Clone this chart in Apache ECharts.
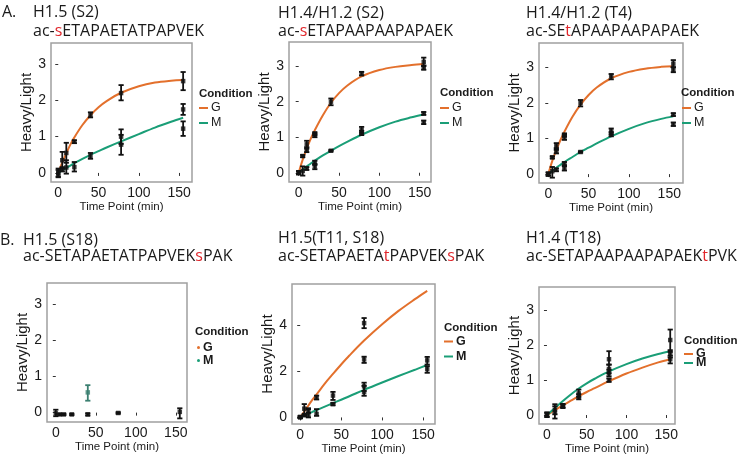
<!DOCTYPE html>
<html>
<head>
<meta charset="utf-8">
<script src="https://cdn.jsdelivr.net/npm/echarts@6/dist/echarts.min.js"></script>
<style>html,body{margin:0;padding:0;background:#fff}#c{width:737px;height:456px}</style>
</head>
<body>
<div id="c"></div>
<script>
// ---------- data ----------
const xTicks = [0, 50, 100, 150];
const yTicks3 = [0, 1, 2, 3];
const yTicksB2 = [0, 2, 4];
const curveT = [0, 5, 10, 15, 20, 30, 40, 50, 60, 78, 100, 120, 140, 155];

// A1  H1.5 (S2)
const a1CurveG = [0, 0.29, 0.54, 0.78, 0.98, 1.32, 1.59, 1.81, 1.98, 2.21, 2.39, 2.49, 2.54, 2.56];
const a1CurveM = [0, 0.07, 0.14, 0.2, 0.27, 0.39, 0.5, 0.6, 0.7, 0.87, 1.07, 1.25, 1.41, 1.52];
const a1G = [[0,0,-0.1,0.12],[5,0.35,0.12,0.58],[10,0.55,0.28,0.83],[20,0.86,0.82,0.9],[40,1.6,1.53,1.67],[78,2.2,2.0,2.42],[155,2.53,2.28,2.78]];
const a1M = [[0,-0.02,-0.12,0.08],[5,0.1,0.04,0.16],[10,0.15,-0.02,0.35],[20,0.16,0.04,0.3],[40,0.47,0.39,0.55],[78,1.0,0.8,1.2],[78,0.78,0.5,1.05],[155,1.75,1.6,1.9],[155,1.22,1.02,1.42]];

// A2  H1.4/H1.2 (S2)
const a2CurveG = [0, 0.37, 0.68, 0.96, 1.2, 1.62, 1.97, 2.24, 2.45, 2.71, 2.89, 2.98, 3.03, 3.06];
const a2CurveM = [0, 0.09, 0.18, 0.26, 0.34, 0.49, 0.62, 0.75, 0.87, 1.07, 1.28, 1.44, 1.56, 1.64];
const a2G = [[0,0,-0.04,0.04],[5,0.47,0.44,0.5],[10,0.8,0.72,0.9],[10,0.63,0.58,0.68],[20,1.05,1.0,1.1],[20,1.1,1.06,1.14],[40,2.0,1.9,2.09],[78,2.78,2.74,2.84],[155,3.12,3.02,3.24],[155,2.95,2.9,3.0]];
const a2M = [[0,0,-0.05,0.05],[5,0.05,-0.08,0.18],[10,0.12,0.08,0.16],[20,0.18,0.1,0.25],[20,0.28,0.22,0.34],[40,0.62,0.6,0.64],[78,1.2,1.12,1.29],[78,1.12,1.06,1.18],[155,1.67,1.63,1.71],[155,1.42,1.37,1.47]];

// A3  H1.4/H1.2 (T4)
const a3CurveG = [0, 0.37, 0.68, 0.95, 1.19, 1.61, 1.95, 2.22, 2.43, 2.69, 2.87, 2.96, 3.01, 3.03];
const a3CurveM = [0, 0.09, 0.18, 0.26, 0.34, 0.48, 0.62, 0.74, 0.86, 1.06, 1.27, 1.43, 1.55, 1.62];
const a3G = [[0,0,-0.04,0.04],[5,0.47,0.44,0.5],[10,0.8,0.73,0.87],[10,0.63,0.58,0.68],[20,1.05,0.96,1.1],[20,1.1,1.05,1.14],[40,2.0,1.9,2.08],[78,2.75,2.66,2.81],[155,3.1,3.0,3.2],[155,2.93,2.86,3.0]];
const a3M = [[0,0,-0.05,0.05],[5,0.08,-0.1,0.2],[10,0.12,0.08,0.16],[20,0.18,0.1,0.25],[20,0.28,0.22,0.34],[40,0.62,0.6,0.64],[78,1.2,1.12,1.28],[78,1.12,1.06,1.18],[155,1.67,1.63,1.71],[155,1.4,1.35,1.45]];

// B1  H1.5 (S18)  (no fitted curves)
const b1G = [[0,-0.02,-0.1,0.08],[5,-0.05,-0.07,-0.03],[10,-0.05,-0.07,-0.03],[20,-0.05,-0.07,-0.03],[40,-0.05,-0.08,-0.02],[78,-0.01,-0.03,0.01],[155,0.02,-0.16,0.12]];
const b1M = [[40,0.56,0.33,0.76]];

// B2  H1.5(T11, S18)
const b2CurveG = [0, 0.26, 0.52, 0.77, 1.0, 1.47, 1.89, 2.3, 2.69, 3.34, 4.05, 4.63, 5.14, 5.5];
const b2CurveM = [0, 0.08, 0.16, 0.24, 0.32, 0.47, 0.62, 0.77, 0.92, 1.2, 1.52, 1.8, 2.07, 2.28];
const b2G = [[0,0.02,-0.03,0.07],[5,0.38,0.1,0.58],[10,0.3,0.2,0.4],[20,0.86,0.78,0.95],[40,0.95,0.76,1.11],[78,4.1,3.88,4.32],[78,2.52,2.37,2.64]];
const b2M = [[0,0,-0.03,0.03],[5,0.1,0.05,0.15],[10,0.1,0,0.36],[20,0.15,0.07,0.36],[40,0.58,0.53,0.63],[78,1.35,1.15,1.51],[78,1.1,0.94,1.37],[155,2.48,2.3,2.63],[155,2.1,1.94,2.23]];

// B3  H1.4 (T18)
const b3CurveG = [0, 0.07, 0.14, 0.21, 0.28, 0.41, 0.54, 0.66, 0.77, 0.97, 1.19, 1.36, 1.51, 1.6];
const b3CurveM = [0, 0.1, 0.2, 0.3, 0.4, 0.59, 0.76, 0.91, 1.04, 1.25, 1.46, 1.62, 1.75, 1.83];
const b3G = [[0,0,-0.06,0.06],[10,0.08,-0.1,0.25],[20,0.25,0.2,0.3],[40,0.52,0.45,0.6],[78,1.0,0.95,1.05],[78,1.2,1.11,1.3],[155,1.6,1.48,1.7]];
const b3M = [[0,0.02,-0.05,0.08],[10,0.15,0.02,0.31],[20,0.28,0.22,0.32],[40,0.62,0.52,0.73],[78,1.6,1.45,1.83],[78,1.32,1.2,1.44],[155,2.15,1.86,2.45],[155,1.75,1.65,1.81]];

// ---------- styling / layout ----------
const ORANGE = '#e3702c', GREEN = '#1a9e77', RED = '#e0262b';
function hasFont(f) {
  const c = document.createElement('canvas').getContext('2d');
  const s = 'Time Point (min) Condition';
  c.font = '20px monospace'; const w0 = c.measureText(s).width;
  c.font = '20px "' + f + '", monospace'; return c.measureText(s).width !== w0;
}
const NARROW = hasFont('Liberation Sans Narrow');
const NF = NARROW ? 'Liberation Sans Narrow' : 'Liberation Sans';
const NS = NARROW ? 13 : 11.5;
const TF = 'Open Sans';

const panels = [
  {grid:{left:51,top:43,width:141,height:139}, x:[-9,166], y:[-0.25,3.58], yt:yTicks3, cg:a1CurveG, cm:a1CurveM, bg:a1G, bm:a1M, yGap:13, xGap:15,
   leg:{left:199, top:101, gap:1, lh:14, dots:false, bold:false}, cond:[199,95]},
  {grid:{left:289,top:42,width:142,height:140}, x:[-12,164], y:[-0.26,3.68], yt:yTicks3, cg:a2CurveG, cm:a2CurveM, bg:a2G, bm:a2M, yGap:12, xGap:15,
   leg:{left:440, top:101, gap:1, lh:14, dots:false, bold:false}, cond:[440,94]},
  {grid:{left:539,top:43,width:144,height:140}, x:[-11.5,167], y:[-0.25,3.68], yt:yTicks3, cg:a3CurveG, cm:a3CurveM, bg:a3G, bm:a3M, yGap:7, xGap:12,
   leg:{left:682, top:101, gap:1, lh:14, dots:false, bold:false}, cond:[681,94]},
  {grid:{left:47,top:283,width:140,height:139}, x:[-11,164], y:[-0.26,3.59], yt:yTicks3, cg:null, cm:null, bg:b1G, bm:b1M, yGap:14, xGap:13, mColor:'#3b7f70',
   leg:{left:197, top:341, gap:0, lh:12.5, dots:true, bold:true}, cond:[195,333]},
  {grid:{left:292,top:284,width:143,height:141}, x:[-10,164.5], y:[-0.29,5.8], yt:yTicksB2, cg:b2CurveG, cm:b2CurveM, bg:b2G, bm:b2M, yGap:15, xGap:14,
   leg:{left:444, top:334.5, gap:1, lh:14, dots:false, bold:true}, cond:[444,329]},
  {grid:{left:539,top:287,width:136,height:140}, x:[-10,161], y:[-0.26,3.67], yt:yTicks3, cg:b3CurveG, cm:b3CurveM, bg:b3G, bm:b3M, yGap:14, xGap:12,
   leg:{left:684, top:347, gap:-5, lh:14, dots:false, bold:true}, cond:[684,342]}
];

const titles = [
  {x:2, y:12, parts:[['A.',0]]},
  {x:33, y:12, parts:[['H1.5 (S2)',0]]},
  {x:33, y:31, parts:[['ac-',0],['s',1],['ETAPAETATPAPVEK',0]]},
  {x:278, y:13, parts:[['H1.4/H1.2 (S2)',0]]},
  {x:278, y:31, parts:[['ac-',0],['s',1],['ETAPAAPAAPAPAEK',0]]},
  {x:526, y:13, parts:[['H1.4/H1.2 (T4)',0]]},
  {x:526, y:31, parts:[['ac-SE',0],['t',1],['APAAPAAPAPAEK',0]]},
  {x:0, y:240, parts:[['B.',0]]},
  {x:23, y:240, parts:[['H1.5 (S18)',0]]},
  {x:23, y:256, parts:[['ac-SETAPAETATPAPVEK',0],['s',1],['PAK',0]]},
  {x:278, y:238, parts:[['H1.5(T11, S18)',0]]},
  {x:278, y:256, parts:[['ac-SETAPAETA',0],['t',1],['PAPVEK',0],['s',1],['PAK',0]]},
  {x:526, y:238, parts:[['H1.4 (T18)',0]]},
  {x:526, y:256, parts:[['ac-SETAPAAPAAPAPAEK',0],['t',1],['PVK',0]]}
];

function renderBar(params, api) {
  const t = api.value(0), lo = api.value(2), hi = api.value(3);
  const a = api.coord([t, hi]), b = api.coord([t, lo]);
  const st = api.style({stroke: api.visual('color'), lineWidth: 1.8, fill: null});
  const w = 2.6;
  return {type:'group', children:[
    {type:'line', shape:{x1:a[0], y1:a[1], x2:b[0], y2:b[1]}, style:st},
    {type:'line', shape:{x1:a[0]-w, y1:a[1], x2:a[0]+w, y2:a[1]}, style:st},
    {type:'line', shape:{x1:b[0]-w, y1:b[1], x2:b[0]+w, y2:b[1]}, style:st}
  ]};
}

const grid = [], xAxis = [], yAxis = [], series = [], legend = [], graphic = [];
panels.forEach((p, i) => {
  grid.push(Object.assign({show:true, borderColor:'#a0a0a0', borderWidth:1.5, backgroundColor:'#fff', containLabel:false}, p.grid));
  xAxis.push({gridIndex:i, type:'value', min:p.x[0], max:p.x[1],
    axisLine:{show:false}, splitLine:{show:false},
    axisTick:{show:true, length:3, customValues:xTicks, lineStyle:{color:'#333', width:1}},
    axisLabel:{customValues:xTicks, fontSize:14, color:'#1a1a1a', fontFamily:'Liberation Sans', margin:4},
    name:'Time Point (min)', nameLocation:'middle', nameGap:p.xGap,
    nameTextStyle:{fontSize:NS, fontFamily:NF, color:'#1a1a1a'}});
  yAxis.push({gridIndex:i, type:'value', min:p.y[0], max:p.y[1],
    axisLine:{show:false}, splitLine:{show:false},
    axisTick:{show:true, length:3, customValues:p.yt, lineStyle:{color:'#333', width:1}},
    axisLabel:{customValues:p.yt, fontSize:14, color:'#1a1a1a', fontFamily:'Liberation Sans', margin:5},
    name:'Heavy/Light', nameLocation:'middle', nameGap:p.yGap,
    nameTextStyle:{fontSize:15, fontFamily:'Liberation Sans', color:'#1a1a1a'}});
  if (p.cg) {
    series.push({name:'G', type:'line', xAxisIndex:i, yAxisIndex:i, color:ORANGE, smooth:0.35, showSymbol:false, z:2,
      lineStyle:{width:2, color:ORANGE}, data:curveT.map((t, k) => [t, p.cg[k]])});
    series.push({name:'M', type:'line', xAxisIndex:i, yAxisIndex:i, color:GREEN, smooth:0.35, showSymbol:false, z:2,
      lineStyle:{width:2, color:GREEN}, data:curveT.map((t, k) => [t, p.cm[k]])});
  }
  [[p.bg, '#111'], [p.bm, p.mColor || '#111']].forEach(([arr, col], j) => {
    series.push({name:(j ? 'M' : 'G') + ' data', type:'custom', xAxisIndex:i, yAxisIndex:i, z:3,
      itemStyle:{color:col}, renderItem:renderBar, encode:{x:0, y:[1,2,3]}, data:arr});
    series.push({name:(j ? 'M' : 'G') + ' data', type:'scatter', xAxisIndex:i, yAxisIndex:i, z:4,
      symbol:'rect', symbolSize:4.5, itemStyle:{color:col}, data:arr.map(d => [d[0], d[1]])});
  });
  const L = p.leg;
  legend.push({left:L.left, top:L.top, orient:'vertical', padding:0, itemGap:L.gap, selectedMode:false,
    itemWidth: L.dots ? 3 : 9, itemHeight: L.dots ? 3 : 2,
    icon: L.dots ? 'circle' : 'rect',
    data:['G', 'M'],
    textStyle:{fontSize:12.5, fontFamily:NF, color:'#1a1a1a', fontWeight: L.bold ? 'bold' : 'normal', lineHeight:L.lh, padding:[0,0,0,-2]}});
  graphic.push({type:'text', left:p.cond[0], top:p.cond[1] - 7,
    style:{text:'Condition', font:'bold ' + NS + 'px "' + NF + '"', fill:'#1a1a1a'}});
});

titles.forEach(t => {
  const rich = {n:{fill:'#1a1a1a', fontSize:16, fontFamily:TF}, r:{fill:RED, fontSize:16, fontFamily:TF}};
  graphic.push({type:'text', x:t.x, y:t.y,
    style:{text:t.parts.map(([s, r]) => '{' + (r ? 'r' : 'n') + '|' + s + '}').join(''), rich:rich, verticalAlign:'middle', align:'left'}});
});

const chart = echarts.init(document.getElementById('c'), null, {renderer:'canvas'});
chart.setOption({backgroundColor:'#fff', animation:false, grid, xAxis, yAxis, series, legend, graphic});
</script>
</body>
</html>
